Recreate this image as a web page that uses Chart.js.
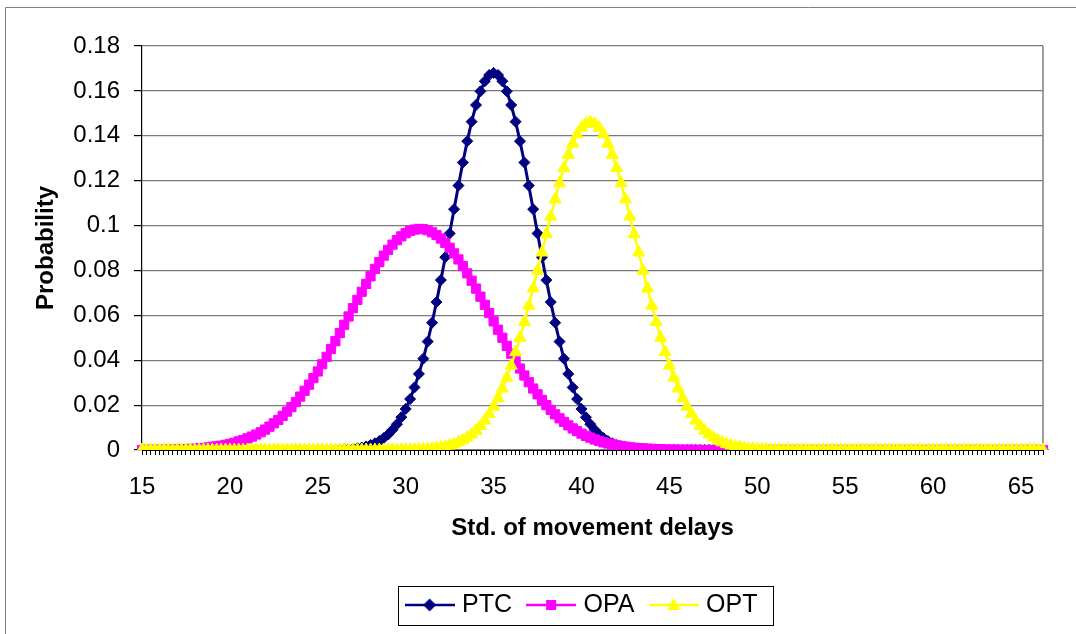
<!DOCTYPE html>
<html lang="en">
<head>
<meta charset="UTF-8">
<title>Probability - Std. of movement delays</title>
<script src="https://cdn.jsdelivr.net/npm/chart.js"></script>
<style>
  body { margin: 0; background: #fff; }
  #wrap { width: 1076px; height: 634px; }
</style>
</head>
<body>
<div id="wrap"><canvas id="lineChart" width="1076" height="634"></canvas></div>
<script>
// x categories (std. of movement delays), one row per integer
const categories = [
  15,15.25,15.5,15.75, 16,16.25,16.5,16.75, 17,17.25,17.5,17.75, 18,18.25,18.5,18.75,
  19,19.25,19.5,19.75, 20,20.25,20.5,20.75, 21,21.25,21.5,21.75, 22,22.25,22.5,22.75,
  23,23.25,23.5,23.75, 24,24.25,24.5,24.75, 25,25.25,25.5,25.75, 26,26.25,26.5,26.75,
  27,27.25,27.5,27.75, 28,28.25,28.5,28.75, 29,29.25,29.5,29.75, 30,30.25,30.5,30.75,
  31,31.25,31.5,31.75, 32,32.25,32.5,32.75, 33,33.25,33.5,33.75, 34,34.25,34.5,34.75,
  35,35.25,35.5,35.75, 36,36.25,36.5,36.75, 37,37.25,37.5,37.75, 38,38.25,38.5,38.75,
  39,39.25,39.5,39.75, 40,40.25,40.5,40.75, 41,41.25,41.5,41.75, 42,42.25,42.5,42.75,
  43,43.25,43.5,43.75, 44,44.25,44.5,44.75, 45,45.25,45.5,45.75, 46,46.25,46.5,46.75,
  47,47.25,47.5,47.75, 48,48.25,48.5,48.75, 49,49.25,49.5,49.75, 50,50.25,50.5,50.75,
  51,51.25,51.5,51.75, 52,52.25,52.5,52.75, 53,53.25,53.5,53.75, 54,54.25,54.5,54.75,
  55,55.25,55.5,55.75, 56,56.25,56.5,56.75, 57,57.25,57.5,57.75, 58,58.25,58.5,58.75,
  59,59.25,59.5,59.75, 60,60.25,60.5,60.75, 61,61.25,61.5,61.75, 62,62.25,62.5,62.75,
  63,63.25,63.5,63.75, 64,64.25,64.5,64.75, 65,65.25,65.5,65.75, 66,66.25
];
const tickLabels = [15, 20, 25, 30, 35, 40, 45, 50, 55, 60, 65];

const ptc = [
  0,0,0,0, 0,0,0,0, 0,0,0,0, 0,0,0,0, 0,0,0,0,                 // 15-19
  0,0,0,0, 0,0,0,0, 0,0,0,0, 0,0,0,0, 0,0,0,0,                 // 20-24
  0,0,0,0.0001, 0.0001,0.0002,0.0003,0.0004, 0.0006,0.0008,0.0011,0.0016,
  0.0022,0.0030,0.0040,0.0053, 0.0069,0.0090,0.0115,0.0146,     // 25-29
  0.0183,0.0227,0.0279,0.0339, 0.0407,0.0483,0.0567,0.0659, 0.0757,0.0859,0.0965,0.1073,
  0.1178,0.1281,0.1376,0.1463, 0.1537,0.1598,0.1643,0.1671,     // 30-34
  0.1680,0.1671,0.1643,0.1598, 0.1537,0.1463,0.1376,0.1281, 0.1178,0.1073,0.0965,0.0859,
  0.0757,0.0659,0.0567,0.0483, 0.0407,0.0339,0.0279,0.0227,     // 35-39
  0.0183,0.0146,0.0115,0.0090, 0.0069,0.0053,0.0040,0.0030, 0.0022,0.0016,0.0011,0.0008,
  0.0006,0.0004,0.0003,0.0002, 0.0001,0.0001,0,0,               // 40-44
  0,0,0,0, 0,0,0,0, 0,0,0,0, 0,0,0,0, 0,0,0,0,                 // 45-49
  0,0,0,0, 0,0,0,0, 0,0,0,0, 0,0,0,0, 0,0,0,0,                 // 50-54
  0,0,0,0, 0,0,0,0, 0,0,0,0, 0,0,0,0, 0,0,0,0,                 // 55-59
  0,0,0,0, 0,0,0,0, 0,0,0,0, 0,0,0,0, 0,0,0,0,                 // 60-64
  0,0,0,0, 0,0                                                  // 65-66
];

const opa = [
  0,0.0001,0.0001,0.0001, 0.0001,0.0001,0.0002,0.0002, 0.0003,0.0003,0.0004,0.0005,
  0.0006,0.0008,0.0009,0.0011, 0.0014,0.0016,0.0019,0.0023,     // 15-19
  0.0027,0.0032,0.0038,0.0044, 0.0052,0.0060,0.0069,0.0079, 0.0091,0.0104,0.0119,0.0134,
  0.0152,0.0171,0.0191,0.0214, 0.0238,0.0264,0.0291,0.0320,     // 20-24
  0.0350,0.0382,0.0415,0.0450, 0.0485,0.0521,0.0558,0.0595, 0.0632,0.0669,0.0705,0.0740,
  0.0774,0.0807,0.0837,0.0866, 0.0892,0.0915,0.0935,0.0952,     // 25-29
  0.0966,0.0976,0.0982,0.0985, 0.0984,0.0979,0.0970,0.0958, 0.0942,0.0923,0.0901,0.0876,
  0.0849,0.0819,0.0787,0.0754, 0.0719,0.0683,0.0647,0.0610,     // 30-34
  0.0573,0.0536,0.0500,0.0464, 0.0429,0.0395,0.0363,0.0332, 0.0302,0.0274,0.0248,0.0223,
  0.0200,0.0179,0.0159,0.0141, 0.0125,0.0110,0.0096,0.0084,     // 35-39
  0.0073,0.0063,0.0055,0.0047, 0.0040,0.0034,0.0029,0.0025, 0.0021,0.0018,0.0015,0.0012,
  0.0010,0.0008,0.0007,0.0006, 0.0005,0.0004,0.0003,0.0002,     // 40-44
  0.0002,0.0002,0.0001,0.0001, 0.0001,0.0001,0.0001,0, 0,0,0,0, 0,0,0,0, 0,0,0,0, // 45-49
  0,0,0,0, 0,0,0,0, 0,0,0,0, 0,0,0,0, 0,0,0,0,                 // 50-54
  0,0,0,0, 0,0,0,0, 0,0,0,0, 0,0,0,0, 0,0,0,0,                 // 55-59
  0,0,0,0, 0,0,0,0, 0,0,0,0, 0,0,0,0, 0,0,0,0,                 // 60-64
  0,0,0,0, 0,0                                                  // 65-66
];

const opt = [
  0,0,0,0, 0,0,0,0, 0,0,0,0, 0,0,0,0, 0,0,0,0,                 // 15-19
  0,0,0,0, 0,0,0,0, 0,0,0,0, 0,0,0,0, 0,0,0,0,                 // 20-24
  0,0,0,0, 0,0,0,0, 0,0,0,0, 0,0,0,0, 0,0,0,0.0001,            // 25-29
  0.0001,0.0001,0.0002,0.0003, 0.0003,0.0005,0.0006,0.0009, 0.0012,0.0015,0.0020,0.0026,
  0.0034,0.0043,0.0055,0.0069, 0.0086,0.0107,0.0131,0.0160,     // 30-34
  0.0193,0.0231,0.0274,0.0322, 0.0376,0.0436,0.0500,0.0570, 0.0643,0.0720,0.0799,0.0880,
  0.0961,0.1040,0.1117,0.1189, 0.1256,0.1315,0.1365,0.1406,     // 35-39
  0.1436,0.1454,0.1460,0.1454, 0.1436,0.1406,0.1365,0.1315, 0.1256,0.1189,0.1117,0.1040,
  0.0961,0.0880,0.0799,0.0720, 0.0643,0.0570,0.0500,0.0436,     // 40-44
  0.0376,0.0322,0.0274,0.0231, 0.0193,0.0160,0.0131,0.0107, 0.0086,0.0069,0.0055,0.0043,
  0.0034,0.0026,0.0020,0.0015, 0.0012,0.0009,0.0006,0.0005,     // 45-49
  0.0003,0.0003,0.0002,0.0001, 0.0001,0.0001,0,0, 0,0,0,0, 0,0,0,0, 0,0,0,0, // 50-54
  0,0,0,0, 0,0,0,0, 0,0,0,0, 0,0,0,0, 0,0,0,0,                 // 55-59
  0,0,0,0, 0,0,0,0, 0,0,0,0, 0,0,0,0, 0,0,0,0,                 // 60-64
  0,0,0,0, 0,0                                                  // 65-66
];

const seriesNames = ['PTC', 'OPA', 'OPT'];
const seriesColors = ['#000080', '#FF00FF', '#FFFF00'];

Chart.defaults.font.family = "'Liberation Sans', Arial, sans-serif";
Chart.defaults.color = '#000';

// little line + marker pictures for the legend
function legendSymbol(color, shape) {
  const c = document.createElement('canvas');
  c.width = 50; c.height = 24;
  const g = c.getContext('2d');
  g.strokeStyle = color; g.lineWidth = 2.5;
  g.beginPath(); g.moveTo(0, 12); g.lineTo(50, 12); g.stroke();
  g.fillStyle = color;
  g.beginPath();
  if (shape === 'diamond') { g.moveTo(25, 5.5); g.lineTo(31.5, 12); g.lineTo(25, 18.5); g.lineTo(18.5, 12); }
  else if (shape === 'square') { g.rect(20, 7, 10, 10); }
  else { g.moveTo(25, 5); g.lineTo(31.5, 17); g.lineTo(18.5, 17); }
  g.closePath(); g.fill();
  return c;
}
const legendIcons = [legendSymbol(seriesColors[0], 'diamond'), legendSymbol(seriesColors[1], 'square'), legendSymbol(seriesColors[2], 'triangle')];

const framePlugin = {
  id: 'frame',
  afterLayout(chart) {
    // legend box sits a little left of the plot centre
    chart.legend.left -= 9;
    chart.legend.right -= 9;
  },
  beforeDraw(chart) {
    const ctx = chart.ctx;
    ctx.save();
    ctx.fillStyle = '#fff';
    ctx.fillRect(0, 0, chart.width, chart.height);
    ctx.strokeStyle = '#808080';
    ctx.lineWidth = 1;
    ctx.beginPath();
    ctx.moveTo(5.5, chart.height); ctx.lineTo(5.5, 7.5); ctx.lineTo(chart.width, 7.5);
    ctx.stroke();
    ctx.restore();
  },
  beforeDatasetsDraw(chart) {
    const {ctx, chartArea: a} = chart;
    ctx.save();
    ctx.strokeStyle = '#808080';
    ctx.lineWidth = 1.5;
    ctx.beginPath(); ctx.moveTo(a.right, a.top); ctx.lineTo(a.right, a.bottom); ctx.stroke();
    ctx.restore();
  },
  afterDraw(chart) {
    const boxes = chart.legend.legendHitBoxes;
    if (!boxes || !boxes.length) return;
    const first = boxes[0], last = boxes[boxes.length - 1];
    const cy = first.top + first.height / 2;
    const ctx = chart.ctx;
    ctx.save();
    ctx.strokeStyle = '#000';
    ctx.lineWidth = 1;
    ctx.strokeRect(Math.round(first.left - 12) + 0.5, Math.round(cy - 19) + 0.5,
      Math.round(last.left + last.width + 15 - (first.left - 12)), 39);
    ctx.restore();
  }
};

new Chart(document.getElementById('lineChart'), {
  type: 'line',
  data: {
    labels: categories,
    datasets: [
      { label: seriesNames[0], data: ptc, borderColor: seriesColors[0], backgroundColor: seriesColors[0],
        borderWidth: 3, pointStyle: 'rectRot', pointRadius: 5.5, pointBorderWidth: 1, order: 3 },
      { label: seriesNames[1], data: opa, borderColor: seriesColors[1], backgroundColor: seriesColors[1],
        borderWidth: 2.5, pointStyle: 'rect', pointRadius: 6.5, pointBorderWidth: 1, order: 2 },
      { label: seriesNames[2], data: opt, borderColor: seriesColors[2], backgroundColor: seriesColors[2],
        borderWidth: 2.5, pointStyle: 'triangle', pointRadius: 7, pointBorderWidth: 1, order: 1 }
    ]
  },
  options: {
    responsive: false,
    animation: false,
    layout: { padding: { left: 0, right: 33, top: 46, bottom: 6.5 } },
    elements: { line: { tension: 0, fill: false } },
    plugins: {
      tooltip: { enabled: false },
      legend: {
        position: 'bottom',
        fullSize: false,
        labels: {
          usePointStyle: true,
          pointStyleWidth: 40,
          padding: 19,
          font: { size: 25 },
          generateLabels: chart => chart.data.datasets.map((ds, i) => ({
            text: ds.label, datasetIndex: i, hidden: false, fontColor: '#000',
            fillStyle: ds.borderColor, strokeStyle: ds.borderColor, lineWidth: 0,
            pointStyle: legendIcons[i]
          }))
        }
      }
    },
    scales: {
      x: {
        type: 'category',
        offset: false,
        afterFit: s => { s.height = 123.5; },
        grid: { drawOnChartArea: false, drawTicks: true, tickLength: 5, tickColor: '#000' },
        border: { color: '#000', width: 1 },
        ticks: {
          autoSkip: false, minRotation: 0, maxRotation: 0, padding: 18,
          font: { size: 24 },
          callback: (v, i) => tickLabels.includes(categories[i]) ? String(categories[i]) : ''
        },
        title: { display: true, text: 'Std. of movement delays', font: { size: 24, weight: 'bold' },
          padding: { top: 0, bottom: 31 } }
      },
      y: {
        min: 0, max: 0.18,
        afterFit: s => { s.width = 142; },
        grid: { color: '#7a7a7a', lineWidth: 1.2, tickLength: 8, tickColor: '#000' },
        border: { color: '#000', width: 1.2 },
        ticks: { stepSize: 0.02, padding: 14, font: { size: 24 }, callback: v => String(+v.toFixed(2)) },
        title: { display: true, text: 'Probability', font: { size: 24, weight: 'bold' },
          padding: { top: 32, bottom: 0 } }
      }
    }
  },
  plugins: [framePlugin]
});
</script>
</body>
</html>
